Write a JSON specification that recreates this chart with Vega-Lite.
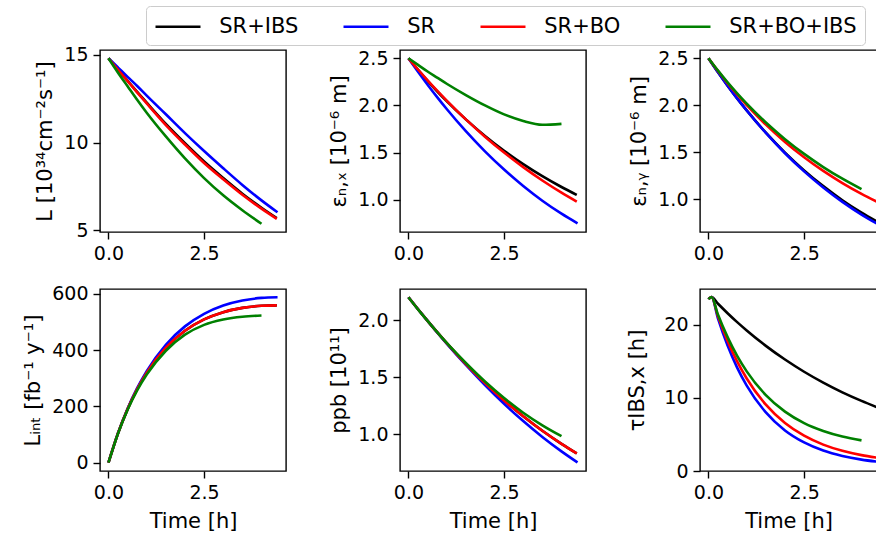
{
  "$schema": "https://vega.github.io/schema/vega-lite/v6.json",
  "autosize": {"type": "pad"},
  "padding": {"left": 22, "top": 5, "right": 0, "bottom": 0},
  "config": {
    "font": "DejaVu Sans",
    "view": {"stroke": "#000000", "strokeWidth": 1.4},
    "axis": {"domain": false, "grid": false, "tickColor": "#000000", "tickSize": 7, "tickWidth": 1.4, "labelColor": "#000000", "labelFontSize": 19, "labelPadding": 5, "titleFontSize": 21, "titleFontWeight": "normal", "titleColor": "#000000", "titlePadding": 8, "labelFlush": false, "labelOverlap": false},
    "line": {"strokeWidth": 2.6, "interpolate": "monotone", "clip": true},
    "legend": {"orient": "none", "legendX": 46, "legendY": -44, "direction": "horizontal", "columns": 4, "gridAlign": "each", "symbolType": "M-2,0L2,0", "symbolSize": 506, "symbolStrokeWidth": 2.6, "symbolOffset": 11.25, "labelOffset": 28.25, "labelFontSize": 21, "labelColor": "#000000", "columnPadding": 39, "padding": 7.75, "fillColor": "#ffffff", "strokeColor": "#cccccc", "cornerRadius": 4}
  },
  "data": {"values": [
    {"s":"SR+IBS","t":0,"L":14.8,"ex":2.5,"ey":2.5,"li":0,"n":2.2,"tau":23.5},
    {"s":"SR+IBS","t":0.08,"tau":23.8},
    {"s":"SR+IBS","t":0.25,"L":14.15,"ex":2.377,"ey":2.350,"li":104.6,"n":2.095,"tau":22.88},
    {"s":"SR+IBS","t":0.5,"L":13.52,"ex":2.261,"ey":2.208,"li":190.5,"n":1.993,"tau":21.59},
    {"s":"SR+IBS","t":0.75,"L":12.89,"ex":2.150,"ey":2.073,"li":261.4,"n":1.894,"tau":20.37},
    {"s":"SR+IBS","t":1.0,"L":12.27,"ex":2.045,"ey":1.945,"li":320.1,"n":1.798,"tau":19.23},
    {"s":"SR+IBS","t":1.5,"L":11.06,"ex":1.852,"ey":1.708,"li":408.7,"n":1.616,"tau":17.12},
    {"s":"SR+IBS","t":2.0,"L":9.96,"ex":1.677,"ey":1.496,"li":469.0,"n":1.450,"tau":15.25},
    {"s":"SR+IBS","t":2.5,"L":8.92,"ex":1.520,"ey":1.307,"li":509.3,"n":1.297,"tau":13.58},
    {"s":"SR+IBS","t":3.0,"L":7.98,"ex":1.378,"ey":1.139,"li":535.1,"n":1.159,"tau":12.09},
    {"s":"SR+IBS","t":3.5,"L":7.09,"ex":1.250,"ey":0.989,"li":550.3,"n":1.032,"tau":10.76},
    {"s":"SR+IBS","t":4.0,"L":6.29,"ex":1.135,"ey":0.857,"li":557.7,"n":0.918,"tau":9.59},
    {"s":"SR+IBS","t":4.4,"L":5.70,"ex":1.051,"ey":0.763,"li":559.3,"n":0.834,"tau":8.74},
    {"s":"SR","t":0,"L":14.8,"ex":2.5,"ey":2.5,"li":0,"n":2.2,"tau":23.5},
    {"s":"SR","t":0.08,"tau":23.8},
    {"s":"SR","t":0.25,"L":14.27,"ex":2.357,"ey":2.351,"li":105.0,"n":2.095,"tau":20.84},
    {"s":"SR","t":0.5,"L":13.74,"ex":2.220,"ey":2.209,"li":192.2,"n":1.993,"tau":17.16},
    {"s":"SR","t":0.75,"L":13.22,"ex":2.088,"ey":2.073,"li":264.9,"n":1.893,"tau":14.15},
    {"s":"SR","t":1.0,"L":12.67,"ex":1.962,"ey":1.944,"li":325.7,"n":1.795,"tau":11.69},
    {"s":"SR","t":1.5,"L":11.61,"ex":1.727,"ey":1.705,"li":419.3,"n":1.608,"tau":8.02},
    {"s":"SR","t":2.0,"L":10.54,"ex":1.513,"ey":1.489,"li":484.6,"n":1.432,"tau":5.55},
    {"s":"SR","t":2.5,"L":9.52,"ex":1.320,"ey":1.296,"li":529.3,"n":1.268,"tau":3.91},
    {"s":"SR","t":3.0,"L":8.54,"ex":1.146,"ey":1.124,"li":558.7,"n":1.117,"tau":2.80},
    {"s":"SR","t":3.5,"L":7.59,"ex":0.990,"ey":0.971,"li":576.6,"n":0.978,"tau":2.06},
    {"s":"SR","t":4.0,"L":6.71,"ex":0.852,"ey":0.836,"li":585.7,"n":0.852,"tau":1.56},
    {"s":"SR","t":4.42,"L":6.03,"ex":0.750,"ey":0.736,"li":588.0,"n":0.755,"tau":1.27},
    {"s":"SR+BO","t":0,"L":14.8,"ex":2.5,"ey":2.5,"li":0,"n":2.2,"tau":23.5},
    {"s":"SR+BO","t":0.08,"tau":23.8},
    {"s":"SR+BO","t":0.25,"L":14.14,"ex":2.381,"ey":2.364,"li":104.6,"n":2.095,"tau":21.15},
    {"s":"SR+BO","t":0.5,"L":13.50,"ex":2.267,"ey":2.236,"li":190.5,"n":1.993,"tau":17.80},
    {"s":"SR+BO","t":0.75,"L":12.86,"ex":2.157,"ey":2.115,"li":261.4,"n":1.894,"tau":15.00},
    {"s":"SR+BO","t":1.0,"L":12.23,"ex":2.051,"ey":2.002,"li":320.1,"n":1.798,"tau":12.66},
    {"s":"SR+BO","t":1.5,"L":11.00,"ex":1.852,"ey":1.794,"li":408.7,"n":1.616,"tau":9.07},
    {"s":"SR+BO","t":2.0,"L":9.89,"ex":1.669,"ey":1.610,"li":469.0,"n":1.450,"tau":6.57},
    {"s":"SR+BO","t":2.5,"L":8.84,"ex":1.500,"ey":1.447,"li":509.3,"n":1.297,"tau":4.83},
    {"s":"SR+BO","t":3.0,"L":7.91,"ex":1.346,"ey":1.301,"li":535.1,"n":1.159,"tau":3.61},
    {"s":"SR+BO","t":3.5,"L":7.03,"ex":1.204,"ey":1.172,"li":550.3,"n":1.032,"tau":2.76},
    {"s":"SR+BO","t":4.0,"L":6.24,"ex":1.075,"ey":1.057,"li":557.7,"n":0.918,"tau":2.17},
    {"s":"SR+BO","t":4.4,"L":5.66,"ex":0.980,"ey":0.974,"li":559.3,"n":0.834,"tau":1.83},
    {"s":"SR+BO+IBS","t":0,"L":14.8,"ex":2.5,"ey":2.5,"li":0,"n":2.2,"tau":23.5},
    {"s":"SR+BO+IBS","t":0.08,"tau":23.8},
    {"s":"SR+BO+IBS","t":0.25,"L":13.98,"ex":2.43,"ey":2.368,"li":104.0,"n":2.094,"tau":21.37},
    {"s":"SR+BO+IBS","t":0.5,"L":13.21,"ex":2.36,"ey":2.243,"li":188.4,"n":1.993,"tau":18.31},
    {"s":"SR+BO+IBS","t":0.75,"L":12.44,"ex":2.295,"ey":2.126,"li":257.3,"n":1.895,"tau":15.75},
    {"s":"SR+BO+IBS","t":1.0,"L":11.70,"ex":2.23,"ey":2.017,"li":313.4,"n":1.800,"tau":13.63},
    {"s":"SR+BO+IBS","t":1.5,"L":10.35,"ex":2.11,"ey":1.816,"li":398.0,"n":1.625,"tau":10.38},
    {"s":"SR+BO+IBS","t":2.0,"L":9.10,"ex":2.00,"ey":1.639,"li":455.0,"n":1.463,"tau":8.12},
    {"s":"SR+BO+IBS","t":2.5,"L":7.98,"ex":1.905,"ey":1.482,"li":490.0,"n":1.318,"tau":6.55},
    {"s":"SR+BO+IBS","t":3.0,"L":7.00,"ex":1.835,"ey":1.342,"li":509.0,"n":1.190,"tau":5.47},
    {"s":"SR+BO+IBS","t":3.5,"L":6.15,"ex":1.795,"ey":1.218,"li":519.0,"n":1.080,"tau":4.71},
    {"s":"SR+BO+IBS","t":4.0,"L":5.38,"ex":1.805,"ey":1.107,"li":523.0,"n":0.985,"tau":4.19}
  ]},
  "columns": 3,
  "spacing": {"row": 57, "column": 114},
  "bounds": "flush",
  "resolve": {"scale": {"color": "shared"}, "legend": {"color": "shared"}},
  "concat": [
    {
      "width": 186, "height": 182,
      "transform": [{"filter": "isValid(datum.L)"}],
      "mark": {"type": "line"},
      "encoding": {
        "x": {"field": "t", "type": "quantitative", "scale": {"domain": [-0.221, 4.641], "nice": false, "zero": false}, "axis": {"values": [0, 2.5], "format": ".1f", "title": null}},
        "y": {"field": "L", "type": "quantitative", "scale": {"domain": [4.91, 15.27], "nice": false, "zero": false}, "axis": {"values": [5, 10, 15], "title": "L [10³⁴cm⁻²s⁻¹]"}},
        "color": {"field": "s", "type": "nominal", "scale": {"domain": ["SR+IBS", "SR", "SR+BO", "SR+BO+IBS"], "range": ["#000000", "#0000ff", "#ff0000", "#008000"]}, "legend": {"title": null}}
      }
    },
    {
      "width": 186, "height": 182,
      "transform": [{"filter": "isValid(datum.ex)"}],
      "mark": {"type": "line"},
      "encoding": {
        "x": {"field": "t", "type": "quantitative", "scale": {"domain": [-0.221, 4.641], "nice": false, "zero": false}, "axis": {"values": [0, 2.5], "format": ".1f", "title": null}},
        "y": {"field": "ex", "type": "quantitative", "scale": {"domain": [0.658, 2.588], "nice": false, "zero": false}, "axis": {"values": [1.0, 1.5, 2.0, 2.5], "format": ".1f", "title": "εₙ,ₓ [10⁻⁶ m]"}},
        "color": {"field": "s", "type": "nominal", "scale": {"domain": ["SR+IBS", "SR", "SR+BO", "SR+BO+IBS"], "range": ["#000000", "#0000ff", "#ff0000", "#008000"]}, "legend": {"title": null}}
      }
    },
    {
      "width": 177, "height": 182,
      "transform": [{"filter": "isValid(datum.ey)"}],
      "mark": {"type": "line"},
      "encoding": {
        "x": {"field": "t", "type": "quantitative", "scale": {"domain": [-0.221, 4.405], "nice": false, "zero": false}, "axis": {"values": [0, 2.5], "format": ".1f", "title": null}},
        "y": {"field": "ey", "type": "quantitative", "scale": {"domain": [0.651, 2.588], "nice": false, "zero": false}, "axis": {"values": [1.0, 1.5, 2.0, 2.5], "format": ".1f", "title": "εₙ,ᵧ [10⁻⁶ m]"}},
        "color": {"field": "s", "type": "nominal", "scale": {"domain": ["SR+IBS", "SR", "SR+BO", "SR+BO+IBS"], "range": ["#000000", "#0000ff", "#ff0000", "#008000"]}, "legend": {"title": null}}
      }
    },
    {
      "width": 186, "height": 182,
      "transform": [{"filter": "isValid(datum.li)"}],
      "mark": {"type": "line"},
      "encoding": {
        "x": {"field": "t", "type": "quantitative", "scale": {"domain": [-0.221, 4.641], "nice": false, "zero": false}, "axis": {"values": [0, 2.5], "format": ".1f", "title": "Time [h]"}},
        "y": {"field": "li", "type": "quantitative", "scale": {"domain": [-29.4, 617.4], "nice": false, "zero": false}, "axis": {"values": [0, 200, 400, 600], "title": "Lᵢₙₜ [fb⁻¹ y⁻¹]"}},
        "color": {"field": "s", "type": "nominal", "scale": {"domain": ["SR+IBS", "SR", "SR+BO", "SR+BO+IBS"], "range": ["#000000", "#0000ff", "#ff0000", "#008000"]}, "legend": {"title": null}}
      }
    },
    {
      "width": 186, "height": 182,
      "transform": [{"filter": "isValid(datum.n)"}],
      "mark": {"type": "line"},
      "encoding": {
        "x": {"field": "t", "type": "quantitative", "scale": {"domain": [-0.221, 4.641], "nice": false, "zero": false}, "axis": {"values": [0, 2.5], "format": ".1f", "title": "Time [h]"}},
        "y": {"field": "n", "type": "quantitative", "scale": {"domain": [0.68, 2.272], "nice": false, "zero": false}, "axis": {"values": [1.0, 1.5, 2.0], "format": ".1f", "title": "ppb [10¹¹]"}},
        "color": {"field": "s", "type": "nominal", "scale": {"domain": ["SR+IBS", "SR", "SR+BO", "SR+BO+IBS"], "range": ["#000000", "#0000ff", "#ff0000", "#008000"]}, "legend": {"title": null}}
      }
    },
    {
      "width": 177, "height": 182,
      "transform": [{"filter": "isValid(datum.tau)"}],
      "mark": {"type": "line"},
      "encoding": {
        "x": {"field": "t", "type": "quantitative", "scale": {"domain": [-0.221, 4.405], "nice": false, "zero": false}, "axis": {"values": [0, 2.5], "format": ".1f", "title": "Time [h]"}},
        "y": {"field": "tau", "type": "quantitative", "scale": {"domain": [0, 24.9], "nice": false, "zero": false}, "axis": {"values": [0, 10, 20], "title": "τIBS,x [h]", "titlePadding": 16}},
        "color": {"field": "s", "type": "nominal", "scale": {"domain": ["SR+IBS", "SR", "SR+BO", "SR+BO+IBS"], "range": ["#000000", "#0000ff", "#ff0000", "#008000"]}, "legend": {"title": null}}
      }
    }
  ]
}
